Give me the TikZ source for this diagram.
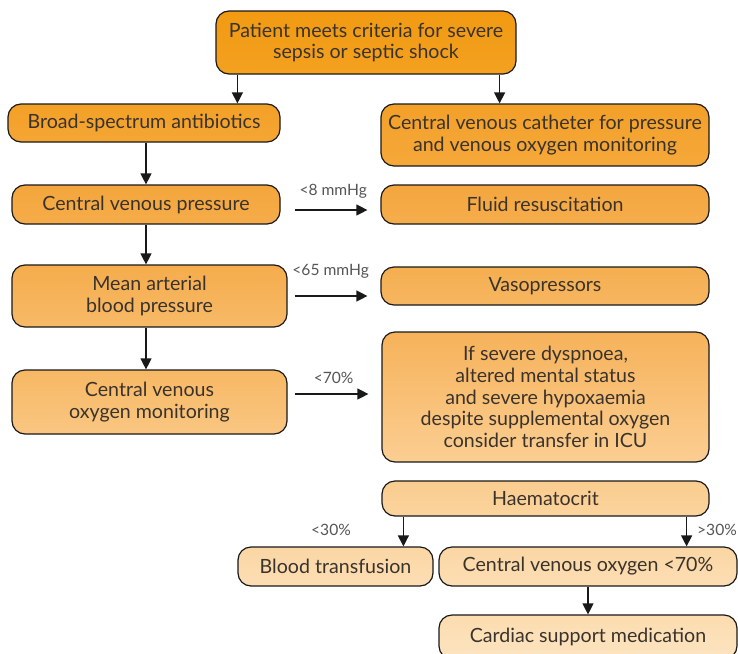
\documentclass[tikz,border=0pt]{standalone}
\usepackage{fontspec}
\setmainfont{Lato}
\usetikzlibrary{arrows.meta}
\definecolor{txt}{HTML}{3A332C}
\definecolor{lab}{HTML}{555555}
\tikzset{
  box/.style={draw=black!90, line width=1.2pt, rounded corners=13pt, align=center,
    inner sep=0pt, text=txt, font=\fontsize{19.6}{21.8}\selectfont},
  arr/.style={draw=black!90, line width=1.2pt, -{Triangle[length=11pt,width=11pt]}},
  lbl/.style={text=lab, font=\fontsize{15.6}{17}\selectfont, inner sep=0pt}
}
\begin{document}
\begin{tikzpicture}[x=1pt,y=-1pt]
\useasboundingbox (0,0) rectangle (738,653);
\node[box, minimum width=300pt, minimum height=63pt, top color={rgb,255:red,242;green,154;blue,18}, bottom color={rgb,255:red,243;green,161;blue,32}] (top) at (366,42.5) {Patient meets criteria for severe\\sepsis or septic shock};
\node[box, minimum width=272pt, minimum height=38pt, top color={rgb,255:red,243;green,160;blue,38}, bottom color={rgb,255:red,244;green,166;blue,52}] (abx) at (144,123) {Broad-spectrum antibiotics};
\node[box, minimum width=328pt, minimum height=62pt, top color={rgb,255:red,243;green,160;blue,40}, bottom color={rgb,255:red,245;green,168;blue,58}] (cvc) at (545,135) {Central venous catheter for pressure\\and venous oxygen monitoring};
\node[box, minimum width=268pt, minimum height=39pt, top color={rgb,255:red,244;green,166;blue,60}, bottom color={rgb,255:red,245;green,172;blue,74}] (cvp) at (146,204.5) {Central venous pressure};
\node[box, minimum width=328pt, minimum height=39pt, top color={rgb,255:red,244;green,166;blue,62}, bottom color={rgb,255:red,245;green,173;blue,76}] (fluid) at (545,204.5) {Fluid resuscitation};
\node[box, minimum width=275pt, minimum height=62pt, top color={rgb,255:red,245;green,172;blue,76}, bottom color={rgb,255:red,247;green,186;blue,104}] (map) at (149.5,296) {Mean arterial\\blood pressure};
\node[box, minimum width=328pt, minimum height=38pt, top color={rgb,255:red,245;green,174;blue,80}, bottom color={rgb,255:red,246;green,182;blue,96}] (vaso) at (545,286) {Vasopressors};
\node[box, minimum width=275pt, minimum height=64pt, top color={rgb,255:red,247;green,184;blue,100}, bottom color={rgb,255:red,249;green,198;blue,130}] (cvom) at (149.5,402) {Central venous\\oxygen monitoring};
\node[box, minimum width=327pt, minimum height=130pt, top color={rgb,255:red,246;green,178;blue,90}, bottom color={rgb,255:red,251;green,206;blue,146}] (icu) at (545.5,397) {If severe dyspnoea,\\altered mental status\\and severe hypoxaemia\\despite supplemental oxygen\\consider transfer in ICU};
\node[box, minimum width=327pt, minimum height=35pt, top color={rgb,255:red,250;green,204;blue,142}, bottom color={rgb,255:red,251;green,212;blue,158}] (haem) at (545.5,498.5) {Haematocrit};
\node[box, minimum width=195pt, minimum height=39pt, top color={rgb,255:red,251;green,214;blue,164}, bottom color={rgb,255:red,252;green,222;blue,180}] (blood) at (335.5,566.5) {Blood transfusion};
\node[box, minimum width=298pt, minimum height=39pt, top color={rgb,255:red,251;green,214;blue,164}, bottom color={rgb,255:red,252;green,222;blue,180}] (cvo) at (588,566.5) {Central venous oxygen <70\%};
\node[box, minimum width=298pt, minimum height=44pt, top color={rgb,255:red,252;green,220;blue,176}, bottom color={rgb,255:red,252;green,228;blue,192}] (card) at (588,637) {Cardiac support medication};
% top arrows
\draw[arr] ([xshift=22pt]top.south west) -- ([xshift=22pt]top.south west |- abx.north);
\draw[arr] ([xshift=-17pt]top.south east) -- ([xshift=-17pt]top.south east |- cvc.north);
% left column
\draw[arr] (abx.south -| cvp.north) -- (cvp.north);
\draw[arr] (cvp.south) -- (cvp.south |- map.north);
\draw[arr] (cvp.south |- map.south) -- (cvp.south |- cvom.north);
% side arrows
\coordinate (s1) at ([xshift=14pt,yshift=-5.5pt]cvp.east);
\draw[arr, shorten >=13pt] (s1) -- (s1 -| fluid.west) node[lbl, pos=0.45, above=11pt] {<8 mmHg};
\coordinate (s2) at ([xshift=7pt]map.east);
\draw[arr, shorten >=13pt] (s2) -- (s2 -| vaso.west) node[lbl, pos=0.42, above=17pt] {<65 mmHg};
\coordinate (s3) at ([xshift=7pt,yshift=8pt]cvom.east);
\draw[arr, shorten >=13pt] (s3) -- (s3 -| icu.west) node[lbl, pos=0.45, above=10pt] {<70\%};
% haematocrit
\draw[arr] ([xshift=22pt]haem.south west) -- ([xshift=22pt]haem.south west |- blood.north);
\draw[arr] ([xshift=-23pt]haem.south east) -- ([xshift=-23pt]haem.south east |- cvo.north);
\node[lbl] (l30) at (331,530) {<30\%};
\node[lbl] (g30) at (717,530) {>30\%};
\draw[arr] (cvo.south) -- (card.north);
\end{tikzpicture}
\end{document}
